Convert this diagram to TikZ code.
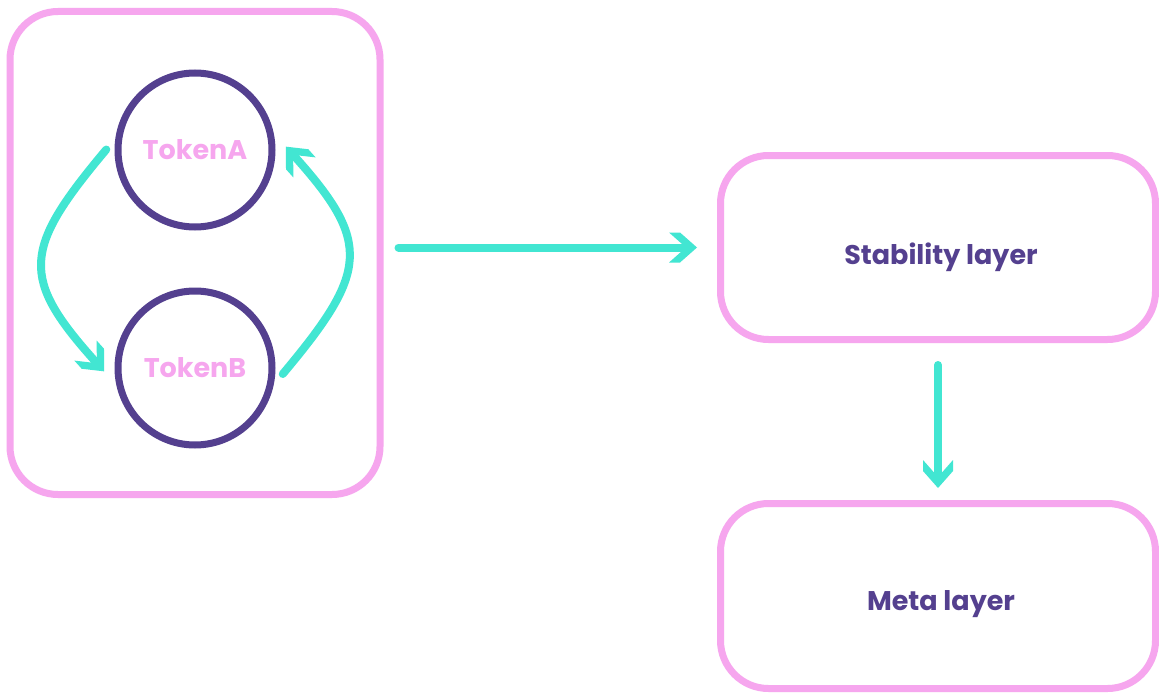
\documentclass[tikz,border=0pt]{standalone}
\usepackage{fontspec}
\setmainfont{Poppins}
\usetikzlibrary{arrows.meta,calc}
\definecolor{boxpink}{HTML}{F6A6EE}
\definecolor{deeppurple}{HTML}{54408F}
\definecolor{teal}{HTML}{42E6D2}
\pgfdeclarearrow{
  name = Chev,
  setup code = {
    \pgfarrowssettipend{0pt}
    \pgfarrowssetlineend{-12pt}
    \pgfarrowssetbackend{-28pt}
    \pgfarrowssetvisualbackend{-20pt}
    \pgfarrowshullpoint{0pt}{0pt}
    \pgfarrowshullpoint{-28pt}{15pt}
    \pgfarrowshullpoint{-28pt}{-15pt}
  },
  drawing code = {
    \pgfpathmoveto{\pgfpoint{0pt}{0pt}}
    \pgfpathlineto{\pgfpoint{-17pt}{15pt}}
    \pgfpathlineto{\pgfpoint{-28pt}{15pt}}
    \pgfpathlineto{\pgfpoint{-11pt}{0pt}}
    \pgfpathlineto{\pgfpoint{-28pt}{-15pt}}
    \pgfpathlineto{\pgfpoint{-17pt}{-15pt}}
    \pgfpathclose
    \pgfusepathqfill
  }
}
\tikzset{
  panel/.style={draw=boxpink, line width=7pt, rounded corners=48pt, inner sep=0pt},
  token/.style={circle, draw=deeppurple, line width=7pt, minimum size=154pt, inner sep=0pt,
    font=\bfseries\fontsize{27}{30}\selectfont, text=boxpink},
  layertext/.style={font=\bfseries\fontsize{27}{30}\selectfont, text=deeppurple, inner sep=0pt},
  flow/.style={draw=teal, line width=8pt, line cap=round, -{Chev}},
}
\begin{document}
\begin{tikzpicture}[x=1pt, y=-1pt]
\useasboundingbox[fill=white] (0,0) rectangle (1159,693);
% left panel
\node[panel, minimum width=370pt, minimum height=483pt] (L) at (195,253) {};
\node[token] (A) at (195,150) {TokenA};
\node[token] (B) at (195,368) {TokenB};
% right panels
\node[panel, minimum width=435pt, minimum height=184pt] (S) at (938,247.5) {};
\node[panel, minimum width=435pt, minimum height=185pt] (M) at (938,596) {};
\node[layertext] (St) at (941,257) {Stability layer};
\node[layertext] (Mt) at (941,604) {Meta layer};
% connectors
\draw[flow, shorten <=14pt, shorten >=18pt] (A.172) to[out=-130, in=132, looseness=1.5] (B.192);
\draw[flow, shorten <=14pt, shorten >=18pt] (B.-12) to[out=50, in=-48, looseness=1.5] (A.12);
\draw[flow, shorten <=15pt, shorten >=20pt] (S.west -| L.east) -- (S.west);
\draw[flow, shorten <=22pt, shorten >=12pt] (S.south) -- (M.north);
\end{tikzpicture}
\end{document}
